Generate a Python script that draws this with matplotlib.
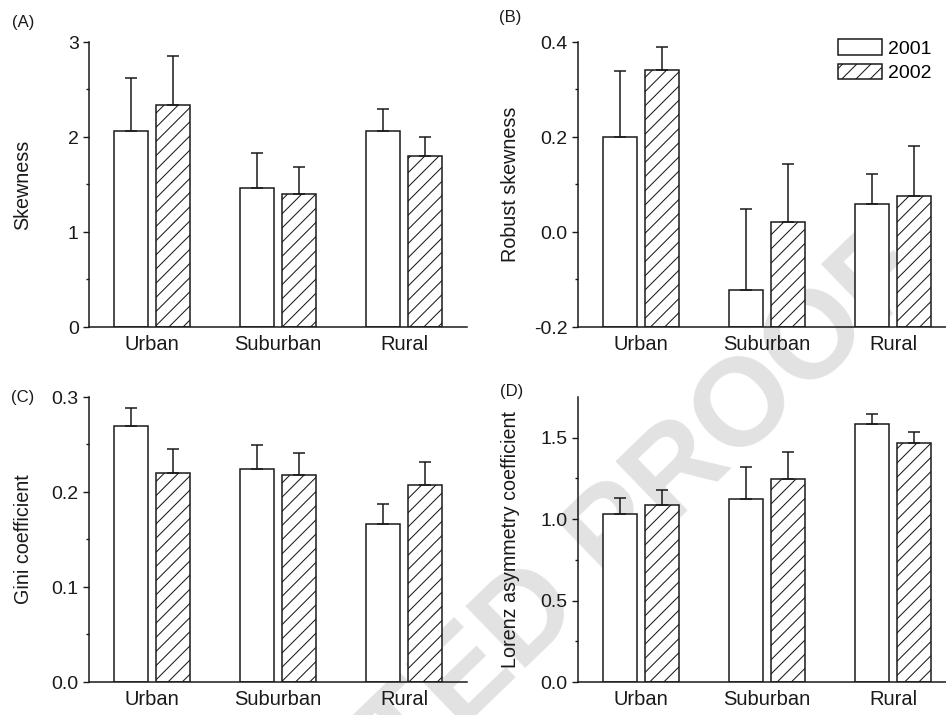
import numpy as np
import matplotlib
matplotlib.use("Agg")
import matplotlib.pyplot as plt
from matplotlib.ticker import FixedLocator, FormatStrFormatter
from matplotlib.patches import Patch

DPI = 85
S = 100.0 / DPI  # keep pixel sizes as designed for 100 dpi

plt.rcParams['font.family'] = ['Liberation Sans', 'DejaVu Sans']
plt.rcParams['axes.unicode_minus'] = False
plt.rcParams['hatch.linewidth'] = 0.75 * S

categories = ["Urban", "Suburban", "Rural"]
years = ["2001", "2002"]

skew_2001 = [2.06, 1.46, 2.06]
skew_2002 = [2.34, 1.40, 1.80]
skew_err_2001 = [0.56, 0.37, 0.23]
skew_err_2002 = [0.51, 0.28, 0.20]

robust_2001 = [0.20, -0.122, 0.059]
robust_2002 = [0.340, 0.020, 0.075]
robust_err_2001 = [0.138, 0.171, 0.064]
robust_err_2002 = [0.049, 0.124, 0.107]

gini_2001 = [0.269, 0.224, 0.166]
gini_2002 = [0.220, 0.218, 0.207]
gini_err_2001 = [0.019, 0.025, 0.021]
gini_err_2002 = [0.025, 0.023, 0.025]

lorenz_2001 = [1.033, 1.122, 1.582]
lorenz_2002 = [1.084, 1.247, 1.469]
lorenz_err_2001 = [0.096, 0.198, 0.063]
lorenz_err_2002 = [0.096, 0.165, 0.066]

panels = [
    dict(letter="(A)", ylabel="Skewness", v1=skew_2001, v2=skew_2002,
         e1=skew_err_2001, e2=skew_err_2002, ylim=(0, 3),
         major=[0, 1, 2, 3], minor=[0.5, 1.5, 2.5], fmt='%d'),
    dict(letter="(B)", ylabel="Robust skewness", v1=robust_2001, v2=robust_2002,
         e1=robust_err_2001, e2=robust_err_2002, ylim=(-0.2, 0.4),
         major=[-0.2, 0.0, 0.2, 0.4], minor=[-0.1, 0.1, 0.3], fmt='%.1f'),
    dict(letter="(C)", ylabel="Gini coefficient", v1=gini_2001, v2=gini_2002,
         e1=gini_err_2001, e2=gini_err_2002, ylim=(0, 0.3),
         major=[0.0, 0.1, 0.2, 0.3], minor=[0.05, 0.15, 0.25], fmt='%.1f'),
    dict(letter="(D)", ylabel="Lorenz asymmetry coefficient", v1=lorenz_2001, v2=lorenz_2002,
         e1=lorenz_err_2001, e2=lorenz_err_2002, ylim=(0, 1.75),
         major=[0.0, 0.5, 1.0, 1.5], minor=[0.25, 0.75, 1.25], fmt='%.1f'),
]

W, H = 946, 715
fig = plt.figure(figsize=((W + 0.01) / DPI, (H + 0.01) / DPI), dpi=DPI)
fig.patch.set_facecolor('white')

INK = '#1a1a1a'
LW = 1.1 * S
ax_w = 378
ax_h = 285
lefts = [89, 578, 89, 578]
tops = [42, 42, 397, 397]
letter_pos = [(23, 22), (510, 17), (23, 397), (512, 391)]

x = np.arange(len(categories))
off = 0.167
bw = 0.27

for i, p in enumerate(panels):
    l, t = lefts[i], tops[i]
    ax = fig.add_axes([l / W, 1 - (t + ax_h) / H, ax_w / W, ax_h / H])
    ax.patch.set_visible(False)
    base = p['ylim'][0]
    v1 = np.array(p['v1']); v2 = np.array(p['v2'])
    ax.bar(x - off, v1 - base, bottom=base, width=bw, facecolor='white',
           edgecolor=INK, linewidth=LW, zorder=2, label=years[0])
    ax.bar(x + off, v2 - base, bottom=base, width=bw, facecolor='white',
           edgecolor=INK, linewidth=LW, hatch='//', zorder=2, label=years[1])
    ax.errorbar(x - off, v1, yerr=[np.zeros(3), p['e1']], fmt='none', ecolor=INK,
                elinewidth=LW, capsize=4 * S, capthick=LW, zorder=3)
    ax.errorbar(x + off, v2, yerr=[np.zeros(3), p['e2']], fmt='none', ecolor=INK,
                elinewidth=LW, capsize=4 * S, capthick=LW, zorder=3)
    ax.set_xlim(-0.5, 2.5)
    ax.set_ylim(*p['ylim'])
    for s in ['top', 'right']:
        ax.spines[s].set_visible(False)
    for s in ['left', 'bottom']:
        ax.spines[s].set_color(INK)
        ax.spines[s].set_linewidth(LW)
    ax.yaxis.set_major_locator(FixedLocator(p['major']))
    ax.yaxis.set_minor_locator(FixedLocator(p['minor']))
    ax.yaxis.set_major_formatter(FormatStrFormatter(p['fmt']))
    ax.tick_params(axis='y', which='major', length=4.3 * S, width=1 * S, colors=INK,
                   labelsize=14 * S, pad=3 * S)
    ax.tick_params(axis='y', which='minor', length=2.2 * S, width=1 * S, colors=INK)
    ax.set_xticks(x)
    ax.set_xticklabels(categories)
    ax.tick_params(axis='x', length=0, labelsize=14.5 * S, pad=6 * S, colors=INK)
    ax.set_ylabel(p['ylabel'], fontsize=14.2 * S, color=INK, va='center')
    lx = 23 if i % 2 == 0 else 510.5
    ax.yaxis.set_label_coords((lx - l) / ax_w, 0.5)
    lp = letter_pos[i]
    fig.text(lp[0] / W, 1 - lp[1] / H, p['letter'], fontsize=12 * S, color=INK,
             ha='center', va='center')
    if i == 1:
        handles = [Patch(facecolor='white', edgecolor=INK, linewidth=LW),
                   Patch(facecolor='white', edgecolor=INK, linewidth=LW, hatch='//')]
        ax.legend(handles, years, loc='upper left',
                  bbox_to_anchor=((838 - l) / ax_w, 1.01), frameon=False,
                  fontsize=14 * S, handlelength=2.27, handleheight=0.87,
                  handletextpad=0.3, labelspacing=0.3, borderpad=0,
                  borderaxespad=0)

fig.text(930 / W, 1 - 278 / H, "UNCORRECTED PROOF", rotation=44,
         rotation_mode='anchor', ha='right', va='baseline', fontsize=90 * S,
         fontweight='bold', color='#e2e2e2', zorder=-1)

fig.savefig("out.png", dpi=DPI)
